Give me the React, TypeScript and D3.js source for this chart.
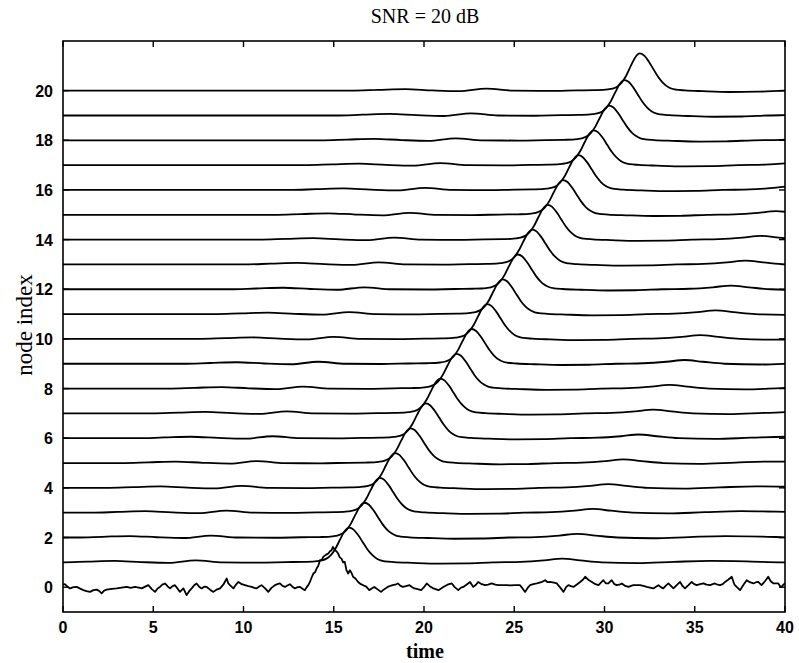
import React from "react";
import * as d3 from "d3";

// ---------- data ----------
const title = "SNR = 20 dB";
const xLabel = "time";
const yLabel = "node index";
const xTicks = [0, 5, 10, 15, 20, 25, 30, 35, 40];
const yTicks = [0, 2, 4, 6, 8, 10, 12, 14, 16, 18, 20];

// peak arrival time of the pulse at nodes 1..20
const nodeIndex = [1, 2, 3, 4, 5, 6, 7, 8, 9, 10, 11, 12, 13, 14, 15, 16, 17, 18, 19, 20];
const peakTime = [15.85, 16.7, 17.55, 18.4, 19.25, 20.1, 20.9, 21.8, 22.64, 23.5, 24.35, 25.2, 26.0, 26.85, 27.7, 28.55, 29.4, 30.25, 31.1, 31.95];
const peakScale = [1, 1, 1, 1, 1, 1, 1, 1, 1, 1, 1, 1, 1, 1, 1, 1, 1, 1, 1.02, 1.07];

// pulse shape as seen on the smooth traces: [offset from peak, height]
const pulseShape: [number, number][] = [
  [-40, 0], [-16, 0], [-14.5, 0.03], [-13, 0.06], [-11.5, 0.01], [-10, -0.02], [-8.5, 0.08], [-7, 0.0],
  [-5, -0.01], [-3.5, 0.01], [-2.5, 0.02], [-2, 0.03], [-1.75, 0.05], [-1.5, 0.08], [-1.25, 0.15],
  [-1, 0.3], [-0.75, 0.56], [-0.5, 0.92], [-0.25, 1.25], [0, 1.4], [0.25, 1.32], [0.5, 1.1],
  [0.75, 0.82], [1, 0.54], [1.25, 0.32], [1.5, 0.17], [1.75, 0.08], [2, 0.04], [2.5, 0.01],
  [3.5, -0.02], [5, -0.05], [6.5, -0.04], [8, 0.0], [9.5, 0.02], [10.8, 0.08], [11.8, 0.15],
  [12.8, 0.08], [14, 0.0], [16, -0.03], [18, 0.02], [20, 0.06], [22, 0.04], [24, 0.0], [40, 0],
];

// noisy trace at node 0: [time, value]
const node0: [number, number][] = [
  [0, 0.1], [0.1, 0.12], [0.25, 0.02], [0.39, -0.05], [0.58, 0.0], [0.76, 0.01], [0.95, -0.06], [1.13, -0.12],
  [1.3, -0.16], [1.5, -0.19], [1.68, -0.12], [1.86, -0.1], [2.0, -0.15], [2.14, -0.25], [2.28, -0.14], [2.42, -0.1],
  [2.7, -0.07], [2.97, -0.05], [3.25, -0.02], [3.53, 0.01], [3.75, -0.03], [3.99, 0.01], [4.2, -0.02], [4.36, -0.05],
  [4.55, 0.02], [4.73, 0.08], [4.92, -0.08], [5.1, -0.19], [5.24, -0.05], [5.37, 0.01], [5.5, 0.1], [5.65, 0.15],
  [5.8, 0.03], [5.93, -0.05], [6.07, 0.04], [6.2, 0.08], [6.34, -0.05], [6.48, -0.19], [6.67, -0.05], [6.85, -0.32],
  [7.0, -0.15], [7.13, -0.05], [7.27, 0.08], [7.4, 0.15], [7.54, 0.02], [7.68, -0.05], [7.82, 0.02], [7.96, 0.01],
  [8.15, -0.1], [8.33, -0.19], [8.5, -0.1], [8.7, -0.05], [8.88, 0.1], [9.07, 0.35], [9.16, 0.15], [9.25, 0.08],
  [9.44, -0.05], [9.58, 0.1], [9.72, 0.21], [9.9, 0.12], [10.08, 0.08], [10.27, 0.04], [10.45, 0.01], [10.6, -0.03],
  [10.73, -0.05], [10.87, 0.03], [11.0, 0.08], [11.2, -0.05], [11.37, -0.19], [11.55, -0.03], [11.74, 0.08], [11.88, 0.12],
  [12.02, 0.15], [12.16, 0.05], [12.3, 0.01], [12.43, 0.07], [12.57, 0.12], [12.71, 0.02], [12.85, -0.05], [13.0, 0.0],
  [13.13, 0.01], [13.27, -0.06], [13.4, -0.12], [13.5, 0.0], [13.59, 0.08], [13.68, 0.21], [13.78, 0.4], [13.87, 0.55],
  [13.96, 0.6], [14.05, 0.75], [14.14, 0.85], [14.24, 1.09], [14.33, 1.1], [14.42, 1.22], [14.56, 1.3], [14.7, 1.36],
  [14.79, 1.45], [14.88, 1.49], [14.96, 1.62], [15.06, 1.49], [15.15, 1.45], [15.24, 1.36], [15.33, 1.2], [15.43, 1.15],
  [15.52, 1.0], [15.61, 1.02], [15.7, 0.7], [15.8, 0.55], [15.89, 0.68], [15.98, 0.58], [16.07, 0.42], [16.2, 0.35],
  [16.35, 0.21], [16.5, 0.12], [16.63, 0.08], [16.8, 0.02], [16.97, -0.12], [17.1, -0.05], [17.25, 0.01], [17.45, -0.1],
  [17.62, -0.19], [17.8, -0.08], [17.99, 0.01], [18.13, 0.05], [18.27, 0.08], [18.41, 0.1], [18.55, 0.15], [18.7, 0.05],
  [18.83, 0.01], [19.0, 0.04], [19.2, 0.08], [19.35, 0.0], [19.47, -0.05], [19.65, -0.08], [19.84, -0.12], [20.0, 0.0],
  [20.15, 0.15], [20.3, 0.05], [20.52, -0.05], [20.8, -0.12], [21.07, 0.01], [21.3, 0.1], [21.54, 0.15], [21.7, 0.0],
  [21.9, -0.12], [22.05, -0.02], [22.18, 0.01], [22.35, 0.1], [22.55, 0.21], [22.73, 0.01], [22.88, 0.1], [23.0, 0.21],
  [23.2, 0.12], [23.38, 0.08], [23.55, 0.1], [23.75, 0.15], [23.95, 0.1], [24.12, 0.08], [24.35, 0.08], [24.58, 0.08],
  [24.8, 0.07], [25.04, 0.08], [25.2, 0.08], [25.32, 0.08], [25.46, -0.05], [25.6, -0.19], [25.75, -0.02], [25.88, 0.08],
  [26.05, 0.12], [26.25, 0.15], [26.5, 0.2], [26.71, 0.28], [26.85, 0.2], [26.99, 0.21], [27.2, 0.18], [27.36, 0.15],
  [27.55, -0.02], [27.73, -0.19], [27.87, 0.0], [28.0, 0.08], [28.14, 0.04], [28.28, 0.01], [28.45, 0.1], [28.65, 0.21],
  [28.8, 0.3], [28.93, 0.42], [29.1, 0.3], [29.3, 0.21], [29.5, 0.12], [29.67, 0.08], [29.8, 0.18], [29.94, 0.28],
  [30.08, 0.15], [30.22, 0.15], [30.3, 0.22], [30.4, 0.28], [30.55, 0.12], [30.68, 0.08], [30.82, 0.1], [30.96, 0.15],
  [31.15, 0.05], [31.33, 0.01], [31.47, 0.05], [31.6, 0.08], [31.8, 0.08], [31.97, 0.08], [32.15, 0.05], [32.34, 0.01],
  [32.52, -0.02], [32.71, -0.05], [32.85, 0.02], [32.99, 0.08], [33.12, 0.0], [33.26, -0.05], [33.4, 0.06], [33.54, 0.15],
  [33.68, 0.05], [33.82, -0.05], [34.0, 0.08], [34.19, 0.21], [34.32, 0.05], [34.46, -0.05], [34.65, 0.08], [34.83, 0.21],
  [34.97, 0.12], [35.11, 0.08], [35.3, 0.12], [35.48, 0.15], [35.66, 0.1], [35.85, 0.08], [36.0, 0.12], [36.12, 0.15],
  [36.26, 0.1], [36.4, 0.08], [36.55, 0.12], [36.68, 0.21], [36.85, 0.3], [37.05, 0.42], [37.2, 0.1], [37.32, 0.01],
  [37.51, -0.12], [37.7, 0.1], [37.88, 0.28], [38.05, 0.2], [38.25, 0.15], [38.4, 0.2], [38.52, 0.21], [38.6, 0.15],
  [38.7, 0.08], [38.9, 0.25], [39.07, 0.42], [39.2, 0.25], [39.35, 0.15], [39.5, 0.15], [39.63, 0.15], [39.72, 0.05],
  [39.81, 0.01], [39.9, 0.1], [40.0, 0.15],
];

// ---------- layout ----------
const W = 799;
const H = 663;
const M = { left: 63, right: 785, top: 41, bottom: 612 };

export default function App() {
  const x = d3.scaleLinear().domain([0, 40]).range([M.left, M.right]);
  const y = d3.scaleLinear().domain([-1, 22]).range([M.bottom, M.top]);

  const smooth = d3
    .line<[number, number]>()
    .x((d) => x(d[0]))
    .y((d) => y(d[1]))
    .curve(d3.curveMonotoneX);
  const jagged = d3
    .line<[number, number]>()
    .x((d) => x(d[0]))
    .y((d) => y(d[1]));

  const traces = nodeIndex.map((k, i) =>
    pulseShape.map(([dt, v]) => [peakTime[i] + dt, k + v * peakScale[i]] as [number, number])
  );

  const tickLen = 6;
  const tickFont = "'Liberation Sans', Arial, sans-serif";
  const serif = "'Liberation Serif', 'Times New Roman', serif";

  return (
    <svg
      width={W}
      height={H}
      style={{ position: "absolute", left: 0, top: 0, background: "#fff" }}
    >
      <defs>
        <clipPath id="plot">
          <rect x={M.left} y={M.top} width={M.right - M.left} height={M.bottom - M.top} />
        </clipPath>
      </defs>
      <rect x={0} y={0} width={W} height={H} fill="#fff" />

      <g clipPath="url(#plot)" fill="none" stroke="#000" strokeWidth={1.8} strokeLinejoin="round">
        {traces.map((pts, i) => (
          <path key={i} d={smooth(pts) || ""} />
        ))}
        <path d={jagged(node0) || ""} />
      </g>

      {/* frame */}
      <rect
        x={M.left}
        y={M.top}
        width={M.right - M.left}
        height={M.bottom - M.top}
        fill="none"
        stroke="#000"
        strokeWidth={1.6}
      />

      {/* ticks */}
      <g stroke="#000" strokeWidth={1.4}>
        {xTicks.map((t) => (
          <g key={t}>
            <line x1={x(t)} x2={x(t)} y1={M.bottom} y2={M.bottom - tickLen} />
            <line x1={x(t)} x2={x(t)} y1={M.top} y2={M.top + tickLen} />
          </g>
        ))}
        {yTicks.map((t) => (
          <g key={t}>
            <line x1={M.left} x2={M.left + tickLen} y1={y(t)} y2={y(t)} />
            <line x1={M.right} x2={M.right - tickLen} y1={y(t)} y2={y(t)} />
          </g>
        ))}
      </g>

      <g fontFamily={tickFont} fontWeight="bold" fontSize={16} fill="#000">
        {xTicks.map((t) => (
          <text key={t} x={x(t)} y={633} textAnchor="middle">
            {t}
          </text>
        ))}
        {yTicks.map((t) => (
          <text key={t} x={53} y={y(t) + 6} textAnchor="end">
            {t}
          </text>
        ))}
      </g>

      <text x={425} y={23} textAnchor="middle" fontFamily={serif} fontSize={20} fill="#000">
        {title}
      </text>
      <text x={425} y={658} textAnchor="middle" fontFamily={serif} fontSize={20} fontWeight="bold" fill="#000">
        {xLabel}
      </text>
      <text
        transform={`translate(32,325) rotate(-90)`}
        textAnchor="middle"
        fontFamily={serif}
        fontSize={23}
        fill="#000"
      >
        {yLabel}
      </text>
    </svg>
  );
}
